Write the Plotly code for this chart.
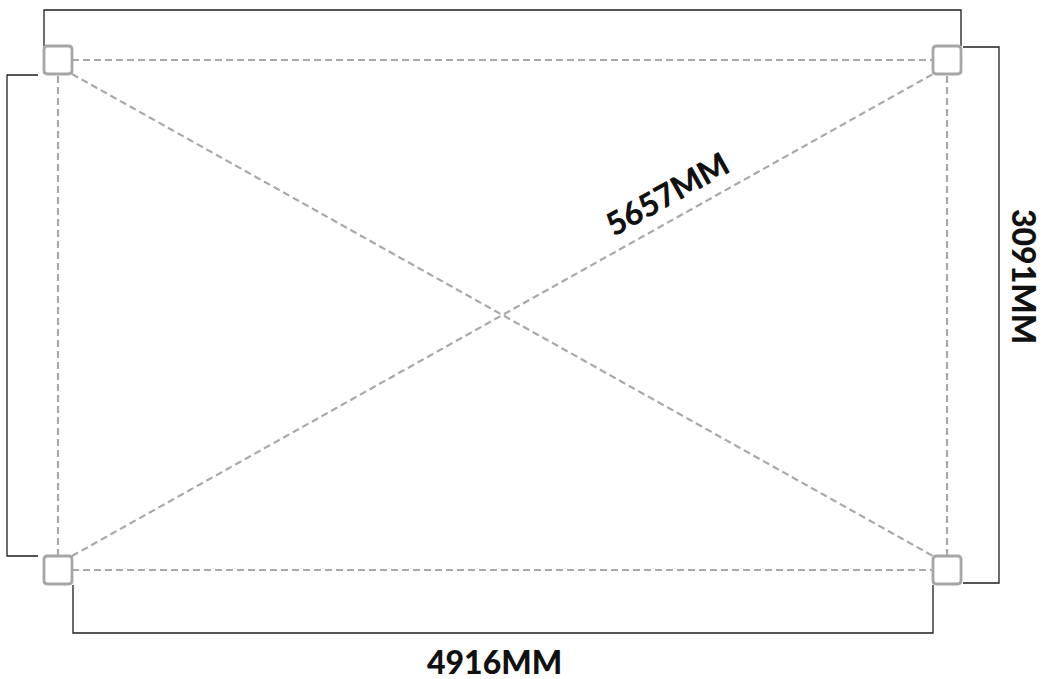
import math
import plotly.graph_objects as go

# ---- data ----
width_mm = 4916
height_mm = 3091
diag_mm = 5657
labels = [f"{width_mm}MM", f"{height_mm}MM", f"{diag_mm}MM"]

# ---- layout scale (pixels per mm, chosen so the frame fills the canvas) ----
FIG_W, FIG_H = 1046, 679
LEFT_PX, TOP_PX = 58, 60
FRAME_W_PX, FRAME_H_PX = 889, 510
ppx = FRAME_W_PX / width_mm
ppy = FRAME_H_PX / height_mm
x_min = -LEFT_PX / ppx
x_max = x_min + FIG_W / ppx
y_max = height_mm + TOP_PX / ppy
y_min = y_max - FIG_H / ppy


def dx(px):
    return px / ppx


def dy(px):
    return px / ppy


W, H = width_mm, height_mm
half = 14  # half side of corner squares in px

dash_color = "#a9a9a9"
solid_color = "#1e1e1e"

fig = go.Figure()

dashed = [
    ([dx(half), W - dx(half)], [H, H]),
    ([dx(half), W - dx(half)], [0, 0]),
    ([0, 0], [dy(half), H - dy(half)]),
    ([W, W], [dy(half), H - dy(half)]),
    ([dx(half), W - dx(half)], [H - dy(half), dy(half)]),
    ([dx(half), W - dx(half)], [dy(half), H - dy(half)]),
]
for xs, ys in dashed:
    fig.add_trace(go.Scatter(x=xs, y=ys, mode="lines",
                             line=dict(color=dash_color, width=2.2, dash="7px,4px"),
                             hoverinfo="skip", showlegend=False))

brackets = [
    ([dx(-14), dx(-14), W + dx(14), W + dx(14)],
     [H + dy(14), H + dy(50), H + dy(50), H + dy(14)]),
    ([W + dx(16), W + dx(52), W + dx(52), W + dx(16)],
     [H + dy(13), H + dy(13), dy(-13), dy(-13)]),
    ([dx(-20), dx(-51), dx(-51), dx(-20)],
     [H - dy(15), H - dy(15), dy(14), dy(14)]),
    ([dx(15), dx(15), W - dx(14), W - dx(14)],
     [dy(-15), dy(-63), dy(-63), dy(-15)]),
]
for xs, ys in brackets:
    fig.add_trace(go.Scatter(x=xs, y=ys, mode="lines",
                             line=dict(color=solid_color, width=1.3),
                             hoverinfo="skip", showlegend=False))

# rounded corner squares
r = 3.5
s = half
sq_path = (f"M {-s},{-s + r} Q {-s},{-s} {-s + r},{-s} L {s - r},{-s} Q {s},{-s} {s},{-s + r} "
           f"L {s},{s - r} Q {s},{s} {s - r},{s} L {-s + r},{s} Q {-s},{s} {-s},{s - r} Z")
for cx, cy in [(0, 0), (0, H), (W, 0), (W, H)]:
    fig.add_shape(type="path", xref="x", yref="y", xsizemode="pixel", ysizemode="pixel",
                  xanchor=cx, yanchor=cy, path=sq_path,
                  line=dict(color="#a6a6a6", width=2.8), fillcolor="white", layer="above")

font = dict(family="Lato", size=32, color="#111111")


def heavy(t):
    return f'<span style="font-weight:900">{t}</span>'


angle = math.degrees(math.atan2(FRAME_H_PX - 2 * half, FRAME_W_PX - 2 * half))
fig.add_annotation(x=W / 2 - dx(8), y=dy(-91), text=heavy(labels[0]), showarrow=False, font=font)
fig.add_annotation(x=W + dx(78), y=H - dy(216), text=heavy(labels[1]), showarrow=False,
                   font=font, textangle=90)
fig.add_annotation(x=dx(608), y=H - dy(133), text=heavy(labels[2]), showarrow=False,
                   font=font, textangle=-angle)

fig.update_xaxes(range=[x_min, x_max], visible=False, fixedrange=True)
fig.update_yaxes(range=[y_min, y_max], visible=False, fixedrange=True)
fig.update_layout(width=FIG_W, height=FIG_H, margin=dict(l=0, r=0, t=0, b=0),
                  paper_bgcolor="white", plot_bgcolor="white")

fig.write_html("out.html", config={"displayModeBar": False},
               post_script="document.body.style.margin='0px';document.body.style.overflow='hidden';")
